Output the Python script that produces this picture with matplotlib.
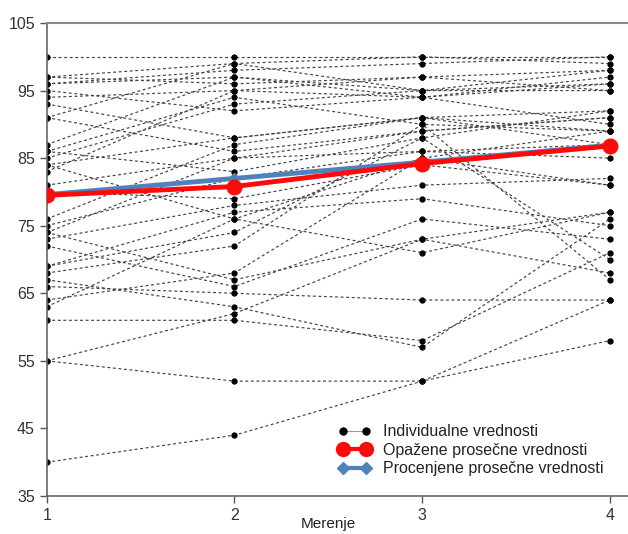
import numpy as np
import matplotlib
matplotlib.use('Agg')
import matplotlib.pyplot as plt
from matplotlib.lines import Line2D

plt.rcParams['font.family'] = ['Liberation Sans', 'DejaVu Sans']
plt.rcParams['font.size'] = 11

# measurement occasions
merenje = [1, 2, 3, 4]

# individual scores, one row per person
individualne = [
    [100, 100, 100, 100],
    [97, 96, 97, 98],
    [97, 99, 100, 99],
    [96, 97, 95, 96],
    [96, 98, 99, 100],
    [95, 92, 94, 97],
    [94, 95, 97, 95],
    [93, 88, 91, 92],
    [91, 99, 95, 98],
    [91, 86, 89, 91],
    [87, 97, 94, 96],
    [86, 94, 90, 89],
    [86, 83, 88, 92],
    [85, 93, 95, 95],
    [84, 88, 91, 87],
    [84, 76, 85, 89],
    [83, 95, 94, 90],
    [81, 85, 86, 87],
    [80, 79, 84, 81],
    [76, 87, 91, 89],
    [75, 82, 86, 85],
    [74, 67, 73, 77],
    [74, 85, 89, 91],
    [73, 78, 81, 82],
    [72, 66, 76, 73],
    [69, 74, 88, 70],
    [69, 77, 79, 75],
    [68, 72, 90, 67],
    [67, 63, 57, 76],
    [66, 65, 64, 64],
    [64, 68, 85, 81],
    [63, 76, 71, 77],
    [61, 61, 58, 71],
    [55, 62, 73, 68],
    [55, 52, 52, 64],
    [40, 44, 52, 58],
]

opazene = [79.5, 80.8, 84.2, 86.8]
procenjene = [79.6, 82.0, 84.4, 86.9]

yticks = [35, 45, 55, 65, 75, 85, 95, 105]

W, H = 628, 534
fig = plt.figure(figsize=(W / 100, H / 100), dpi=100)
left, right, bottom, top = 46.7, 638, 38, 511
ax = fig.add_axes([left / W, bottom / H, (right - left) / W, (top - bottom) / H])

for row in individualne:
    ax.plot(merenje, row, color='#444444', lw=0.85, dashes=(2.5, 2.2),
            marker='o', ms=3.5, mfc='black', mec='black', zorder=2)

ax.plot(merenje, procenjene, color='#4f81bd', lw=3.5, marker='D', ms=5,
        zorder=3)
ax.plot(merenje, opazene, color='#ff0a0a', lw=3.5, marker='o', ms=10.5,
        zorder=4)

ax.set_xlim(1, 4.15)
ax.set_ylim(35, 105)
ax.set_xticks(merenje)
ax.set_yticks(yticks)
ax.tick_params(direction='out', length=5, width=1, colors='#555555',
               labelcolor='#333333', labelsize=11.5)

for s in ['left', 'bottom', 'top']:
    ax.spines[s].set_color('#666666')
    ax.spines[s].set_linewidth(1.2)
ax.spines['top'].set_color('#888888')
ax.spines['top'].set_linewidth(1.5)
ax.spines['right'].set_visible(False)

ax.set_xlabel('Merenje', fontsize=11, color='#222222')
ax.xaxis.set_label_coords((2.5 - 1) / (4.15 - 1), -0.045)

handles = [
    Line2D([], [], color='#999999', lw=0.8, marker='o', ms=5,
           mfc='black', mec='black'),
    Line2D([], [], color='#ff0a0a', lw=3, marker='o', ms=10),
    Line2D([], [], color='#4f81bd', lw=3, marker='D', ms=6.5),
]
labels = ['Individualne vrednosti', 'Opažene prosečne vrednosti',
          'Procenjene prosečne vrednosti']
leg = ax.legend(handles, labels, numpoints=2, frameon=False, fontsize=11.5,
                handlelength=2.0, handletextpad=0.8, labelspacing=0.22,
                loc='upper left',
                bbox_to_anchor=(324 / W, 1 - 410 / H),
                bbox_transform=fig.transFigure)
for t in leg.get_texts():
    t.set_color('#222222')

fig.savefig('out.png', dpi=100)
